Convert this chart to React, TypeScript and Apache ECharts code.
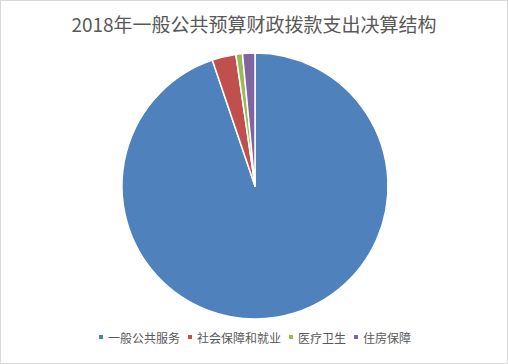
import React, { useEffect, useRef } from "react";
import * as echarts from "echarts";

const categories = ["一般公共服务", "社会保障和就业", "医疗卫生", "住房保障"];
const values = [94.8, 2.9, 0.8, 1.5];
const colors = ["#4F81BD", "#C0504D", "#9BBB59", "#8064A2"];
const titleText = "2018年一般公共预算财政拨款支出决算结构";

export default function App() {
  const ref = useRef<HTMLDivElement>(null);
  useEffect(() => {
    document.body.style.margin = "0";
    const chart = echarts.init(ref.current!, null, { renderer: "svg" });
    chart.setOption({
      animation: false,
      backgroundColor: "#ffffff",
      color: colors,
      title: {
        text: titleText,
        left: "center",
        top: 8,
        textStyle: {
          fontFamily: "'Noto Sans CJK SC', sans-serif",
          fontSize: 19,
          fontWeight: "normal",
          color: "#595959",
        },
      },
      legend: {
        bottom: 15,
        left: "center",
        icon: "rect",
        itemWidth: 6,
        itemHeight: 6,
        itemGap: 6,
        textStyle: {
          fontFamily: "'Noto Sans CJK SC', sans-serif",
          fontSize: 12,
          color: "#595959",
          padding: [0, 0, 0, -1],
        },
        data: categories,
      },
      series: [
        {
          type: "pie",
          center: [254, 185],
          radius: 133,
          startAngle: 90,
          clockwise: true,
          label: { show: false },
          labelLine: { show: false },
          emphasis: { disabled: true },
          itemStyle: { borderColor: "#ffffff", borderWidth: 1.5 },
          data: categories.map((name, i) => ({ name, value: values[i] })),
        },
      ],
    });
    return () => chart.dispose();
  }, []);
  return (
    <div
      ref={ref}
      style={{
        position: "absolute",
        left: 0,
        top: 0,
        width: 508,
        height: 364,
        boxSizing: "border-box",
        border: "1px solid #d9d9d9",
      }}
    />
  );
}
